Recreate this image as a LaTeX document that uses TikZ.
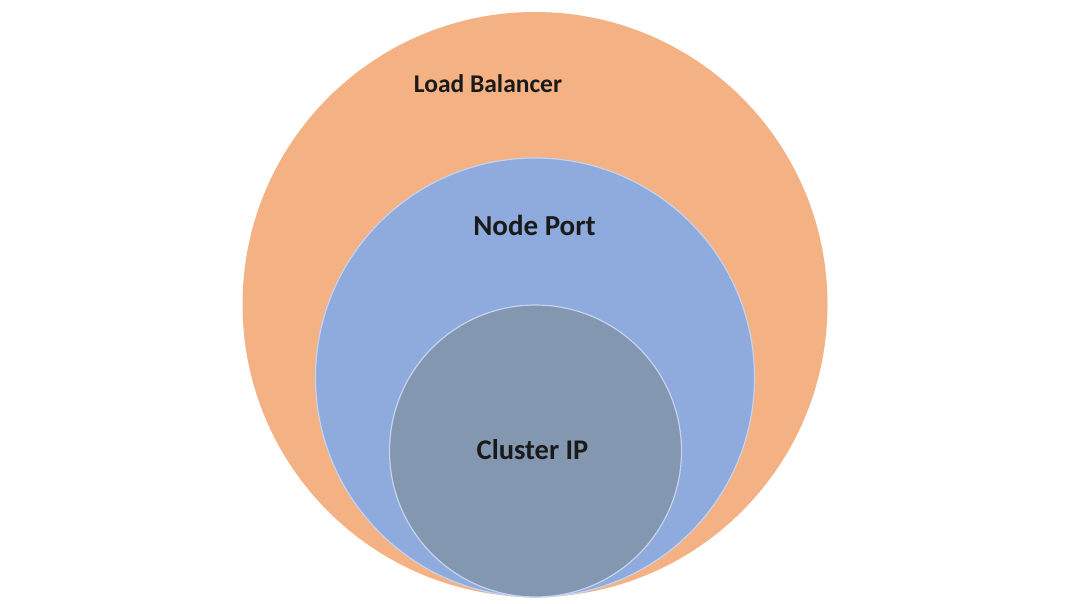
\documentclass[tikz,border=0pt]{standalone}
\usepackage{fontspec}
\setmainfont{Carlito}
\definecolor{lbfill}{HTML}{F4B183}
\definecolor{npfill}{HTML}{8FAADC}
\definecolor{cifill}{HTML}{8497B0}
\definecolor{rimc}{HTML}{C5D3EE}
\definecolor{txt}{HTML}{1A1A1A}
\tikzset{
  ring/.style={circle, inner sep=0pt, draw=#1, line width=1.2pt},
  lbl/.style={font=\fontsize{#1}{30}\selectfont\bfseries, text=txt, inner sep=0pt}
}
\begin{document}
\begin{tikzpicture}[x=1pt,y=1pt]
\useasboundingbox (0,0) rectangle (1084,603);
\fill[white] (0,0) rectangle (1084,603);
\node[circle, inner sep=0pt, minimum size=585pt, fill=lbfill] (lb) at (535,298.5) {};
\node[ring=rimc, minimum size=439pt, fill=npfill] (np) at (535,225.5) {};
\node[ring=rimc, minimum size=292pt, fill=cifill] (ci) at (535.5,152) {};
\node[lbl=25.5] (lbt) at (488,519) {Load Balancer};
\node[lbl=29] (npt) at (534.5,378) {Node Port};
\node[lbl=28.5] (cit) at (532.5,153) {Cluster IP};
\end{tikzpicture}
\end{document}
